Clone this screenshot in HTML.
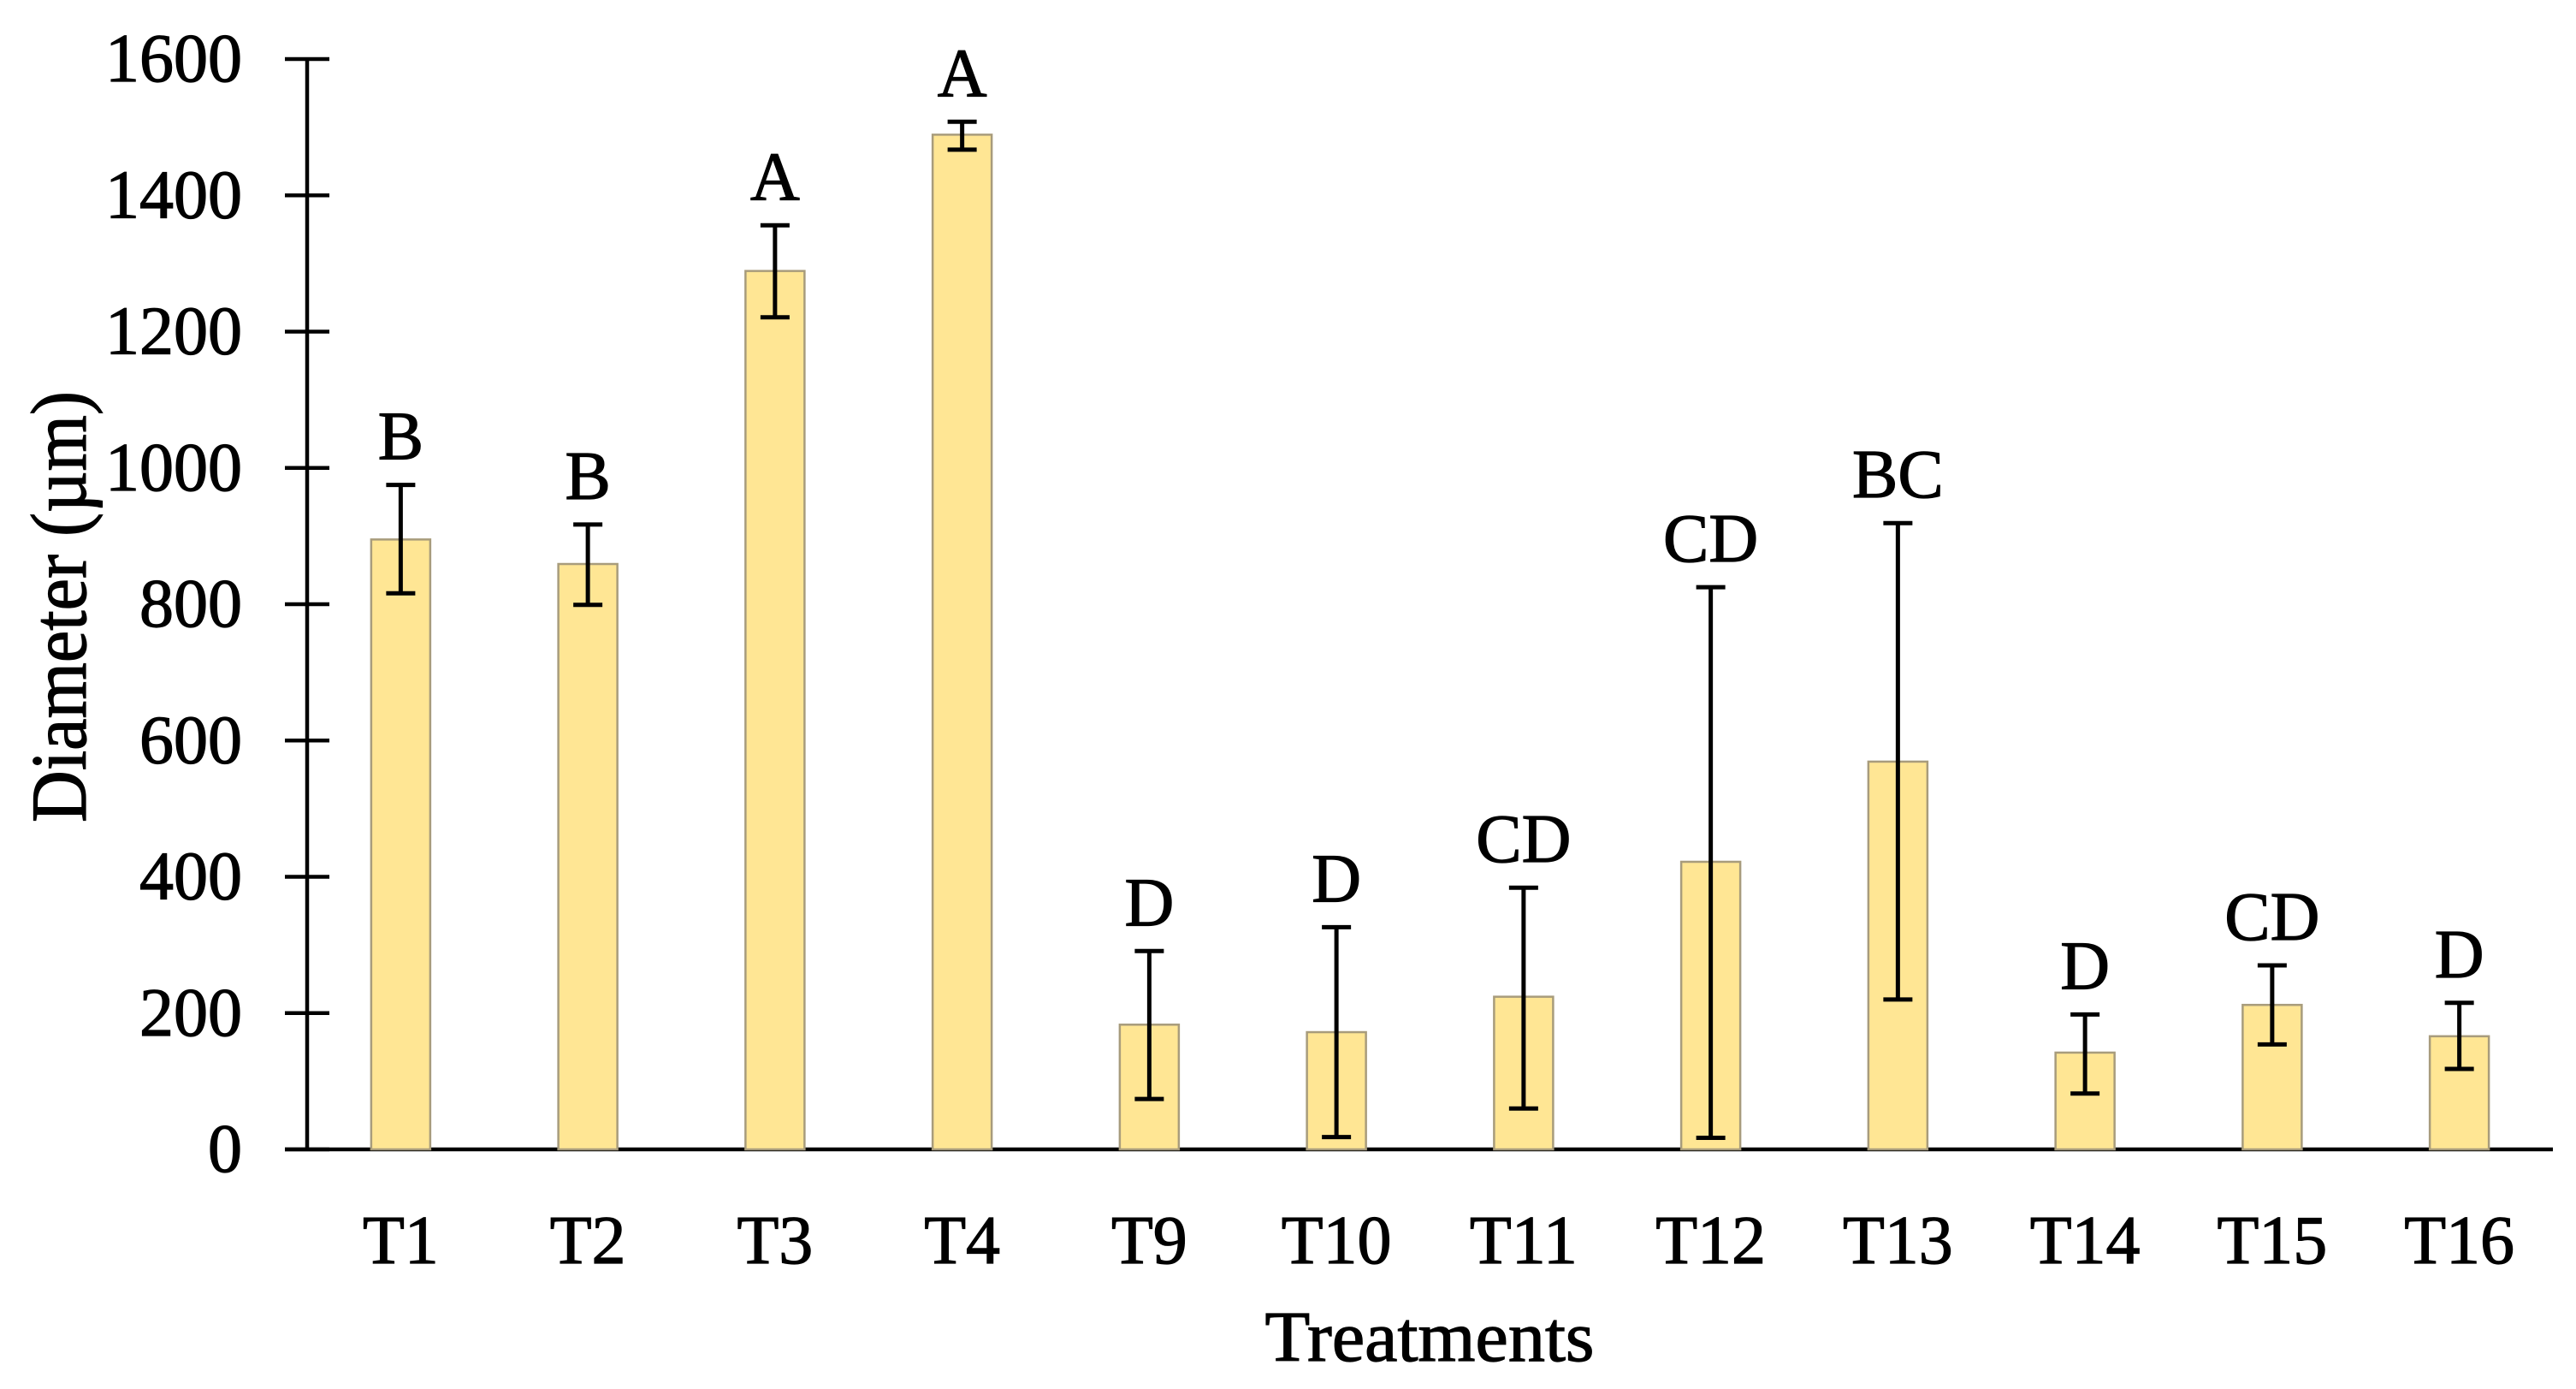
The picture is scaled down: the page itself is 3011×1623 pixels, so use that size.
<!DOCTYPE html>
<html><head><meta charset="utf-8"><style>
html,body{margin:0;padding:0;background:#fff;}
svg{display:block;font-family:"Liberation Serif",serif;}
text{stroke:#000;stroke-width:1.2px;}
</style></head><body>
<svg id="chart" width="3011" height="1623" viewBox="0 0 3011 1623" xmlns="http://www.w3.org/2000/svg">
<g id="axes"></g>
<g id="bars"></g>
<text x="1671" y="1590" font-size="84" text-anchor="middle" textLength="385" lengthAdjust="spacingAndGlyphs">Treatments</text>
<text transform="translate(100,709) rotate(-90)" font-size="92" text-anchor="middle" textLength="504" lengthAdjust="spacingAndGlyphs">Diameter (µm)</text>
</svg>
<script>
const categories = ["T1","T2","T3","T4","T9","T10","T11","T12","T13","T14","T15","T16"];
const means = [895,859,1289,1489,183,172,224,422,569,142,212,166];
const errHigh = [975,917,1356,1508,291,326,384,825,919,198,270,215];
const errLow = [816,799,1221,1467,74,18,60,17,220,82,154,118];
const groupLabels = ["B","B","A","A","D","D","CD","CD","BC","D","CD","D"];
const yTicks = [0,200,400,600,800,1000,1200,1400,1600];

const NS = "http://www.w3.org/2000/svg";
const x0 = 359, x1 = 2984, yBase = 1343, yTop = 69, yMax = 1600;
const band = (x1 - x0) / categories.length;
function xScale(i){ return x0 + band * (i + 0.5); }
function yScale(v){ return yBase - (v / yMax) * (yBase - yTop); }
function mk(tag, attrs, parent){ const e = document.createElementNS(NS, tag); for (const k in attrs) e.setAttribute(k, attrs[k]); parent.appendChild(e); return e; }

const axes = document.getElementById("axes");
const bars = document.getElementById("bars");

const yAxis = mk("line", {x1:x0, y1:yTop, x2:x0, y2:yBase, stroke:"#000", "stroke-width":4.5}, axes);


yTicks.forEach(t => {
  const y = yScale(t);
  const tk = mk("line", {x1:333, y1:y, x2:385, y2:y, stroke:"#000", "stroke-width":4.5}, axes);
  
  
  const lb = mk("text", {x:283, y:y+26, "font-size":80, "text-anchor":"end"}, axes);
  lb.textContent = t;
  
  
});

categories.forEach((c, i) => {
  const cx = xScale(i);
  const bw = 69;
  const r = mk("rect", {x:cx-bw/2, y:yScale(means[i]), width:bw, height:yBase-yScale(means[i]), fill:"#ffe694", stroke:"#a89c7c", "stroke-width":2.5}, bars);
  
  
  const yh = yScale(errHigh[i]), yl = yScale(errLow[i]);
  const eg = mk("g", {stroke:"#000", "stroke-width":5}, bars);
  
  
  mk("line", {x1:cx, y1:yh, x2:cx, y2:yl}, eg);
  mk("line", {x1:cx-17, y1:yh, x2:cx+17, y2:yh}, eg);
  mk("line", {x1:cx-17, y1:yl, x2:cx+17, y2:yl}, eg);
  const gl = mk("text", {x:cx, y:yh-30, "font-size":80, "text-anchor":"middle"}, bars);
  gl.textContent = groupLabels[i];
  
  
  const xl = mk("text", {x:cx, y:1476, "font-size":80, "text-anchor":"middle"}, axes);
  xl.textContent = c;
  
  
});

const xAxis = mk("line", {x1:333, y1:yBase, x2:x1, y2:yBase, stroke:"#000", "stroke-width":4.5}, axes);


</script>
</body></html>
